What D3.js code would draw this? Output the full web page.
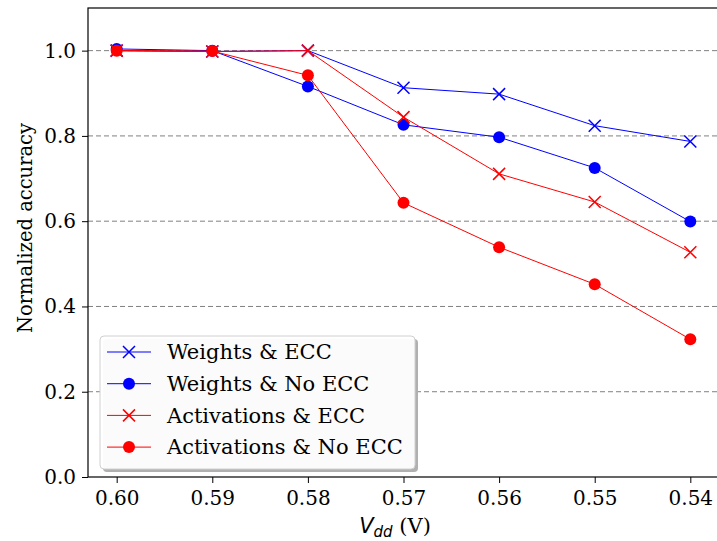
<!DOCTYPE html>
<html>
<head>
<meta charset="utf-8">
<script src="https://cdn.jsdelivr.net/npm/d3@7"></script>
<style>
  body { margin: 0; background: #fff; }
  svg { display: block; }
  text { font-family: "DejaVu Serif", serif; fill: #000; }
</style>
</head>
<body>
<div id="chart"></div>
<script>
const voltages = [0.60, 0.59, 0.58, 0.57, 0.56, 0.55, 0.54]
const weightsEcc = [1.0, 0.998, 1.0, 0.913, 0.898, 0.824, 0.787]
const weightsNoEcc = [1.004, 1.0, 0.916, 0.826, 0.797, 0.725, 0.599]
const actsEcc = [1.0, 0.998, 1.0, 0.844, 0.711, 0.645, 0.527]
const actsNoEcc = [1.0, 0.999, 0.942, 0.643, 0.539, 0.452, 0.323]
const yTicks = [0.0, 0.2, 0.4, 0.6, 0.8, 1.0]

const series = [
  { name: "Weights & ECC", values: weightsEcc, color: "#0000ff", marker: "x" },
  { name: "Weights & No ECC", values: weightsNoEcc, color: "#0000ff", marker: "o" },
  { name: "Activations & ECC", values: actsEcc, color: "#ff0000", marker: "x" },
  { name: "Activations & No ECC", values: actsNoEcc, color: "#ff0000", marker: "o" }
]

const W = 717, H = 541
const margin = { top: 8, right: -2, bottom: 64, left: 88 }
const width = W - margin.left - margin.right
const height = H - margin.top - margin.bottom

const svg = d3.select("#chart").append("svg")
  .attr("width", W)
  .attr("height", H)

const g = svg.append("g")
  .attr("transform", `translate(${margin.left},${margin.top})`)

// inverted voltage axis, matplotlib-style 5% margins
const x = d3.scaleLinear().domain([0.603, 0.537]).range([0, width])
const y = d3.scaleLinear().domain([0, 1.1]).range([height, 0])

// dashed grid
g.selectAll(".grid").data(yTicks.filter(d => d > 0))
  .enter().append("line")
  .attr("class", "grid")
  .attr("x1", 0).attr("x2", width)
  .attr("y1", d => y(d)).attr("y2", d => y(d))
  .attr("stroke", "#808080")
  .attr("stroke-width", 1)
  .attr("stroke-dasharray", "5,3")

const xAxis = g.append("g")
  .attr("transform", `translate(0,${height})`)
  .call(d3.axisBottom(x).tickValues(voltages).tickFormat(d3.format(".2f")).tickSize(6).tickPadding(8))

const yAxis = g.append("g")
  .call(d3.axisLeft(y).tickValues(yTicks).tickFormat(d3.format(".1f")).tickSize(6).tickPadding(6))

for (const ax of [xAxis, yAxis]) {
  ax.select(".domain").remove()
  ax.selectAll("text").attr("font-family", "DejaVu Serif").attr("font-size", 20).attr("fill", "#000")
  ax.selectAll("line").attr("stroke", "#000").attr("stroke-width", 1)
}

// spines
g.append("rect")
  .attr("x", 0).attr("y", 0)
  .attr("width", width).attr("height", height)
  .attr("fill", "none")
  .attr("stroke", "#000")
  .attr("stroke-width", 1.2)

const line = d3.line()
  .x((d, i) => x(voltages[i]))
  .y(d => y(d))

function drawMarker(sel, marker, color, cx, cy) {
  if (marker === "o") {
    sel.append("circle")
      .attr("cx", cx).attr("cy", cy).attr("r", 6)
      .attr("fill", color)
  } else {
    const s = 6
    sel.append("path")
      .attr("d", `M${cx - s},${cy - s}L${cx + s},${cy + s}M${cx - s},${cy + s}L${cx + s},${cy - s}`)
      .attr("stroke", color)
      .attr("stroke-width", 1.5)
      .attr("fill", "none")
  }
}

series.forEach(s => {
  const sg = g.append("g")
  sg.append("path")
    .datum(s.values)
    .attr("d", line)
    .attr("fill", "none")
    .attr("stroke", s.color)
    .attr("stroke-width", 1)
  s.values.forEach((v, i) => drawMarker(sg, s.marker, s.color, x(voltages[i]), y(v)))
})

// legend
const lg = svg.append("g").attr("transform", "translate(100,336)")
const lw = 315, lh = 133
lg.append("rect")
  .attr("x", 3).attr("y", 3).attr("width", lw).attr("height", lh)
  .attr("rx", 4).attr("fill", "#b0b0b0")
lg.append("rect")
  .attr("x", 0).attr("y", 0).attr("width", lw).attr("height", lh)
  .attr("rx", 4).attr("fill", "#fff").attr("fill-opacity", 0.95)
  .attr("stroke", "#d0d0d0").attr("stroke-width", 1)

series.forEach((s, i) => {
  const cy = 16 + i * 31.7
  lg.append("line")
    .attr("x1", 7).attr("x2", 51)
    .attr("y1", cy).attr("y2", cy)
    .attr("stroke", s.color).attr("stroke-width", 1)
  drawMarker(lg, s.marker, s.color, 29, cy)
  lg.append("text")
    .attr("x", 67).attr("y", cy)
    .attr("dy", "0.35em")
    .attr("font-size", 21)
    .text(s.name)
})

// axis labels
svg.append("text")
  .attr("transform", "translate(32,228) rotate(-90)")
  .attr("text-anchor", "middle")
  .attr("font-size", 19.5)
  .text("Normalized accuracy")

const xl = svg.append("text")
  .attr("x", 395)
  .attr("y", 533)
  .attr("text-anchor", "middle")
  .attr("font-size", 21)
xl.append("tspan").attr("font-family", "DejaVu Sans").attr("font-style", "italic").text("V")
xl.append("tspan").attr("font-family", "DejaVu Sans").attr("font-style", "italic")
  .attr("font-size", 15).attr("dy", 4).text("dd")
xl.append("tspan").attr("dy", -4).text(" (V)")
</script>
</body>
</html>
